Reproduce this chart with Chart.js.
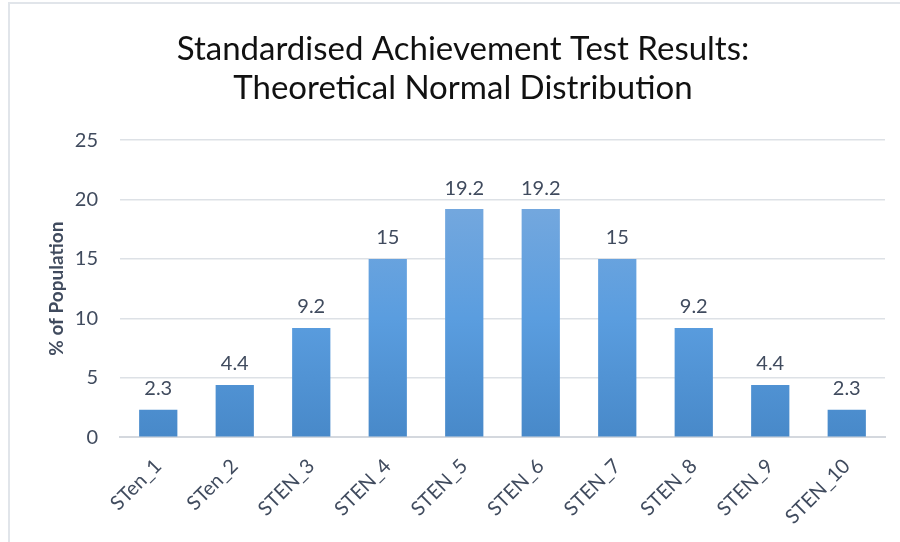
<!DOCTYPE html>
<html>
<head>
<meta charset="utf-8">
<script src="https://cdn.jsdelivr.net/npm/chart.js@4"></script>
<style>
  html, body { margin: 0; padding: 0; background: #fff; }
  .frame { position: absolute; left: 8px; top: 2px; width: 900px; height: 560px;
           border-left: 2px solid #e1e5ea; border-top: 2px solid #e1e5ea; }
  .chart_canvas { position: absolute; left: 0; top: 0; width: 900px; height: 542px; }
</style>
</head>
<body>
<div class="frame"></div>
<div class="chart_canvas">
  <canvas id="myChart" width="900" height="542"></canvas>
</div>
<script>
const categories = ["STen_1", "STen_2", "STEN_3", "STEN_4", "STEN_5",
                    "STEN_6", "STEN_7", "STEN_8", "STEN_9", "STEN_10"];
const population = [2.3, 4.4, 9.2, 15, 19.2, 19.2, 15, 9.2, 4.4, 2.3];
const yTicks = [0, 5, 10, 15, 20, 25];

const textColor = '#404b5e';
const fontFamily = 'Lato, "Open Sans", sans-serif';

// draws the value above each bar
const barValues = {
    id: 'barValues',
    afterDatasetsDraw(chart) {
        const ctx = chart.ctx;
        const meta = chart.getDatasetMeta(0);
        ctx.save();
        ctx.fillStyle = textColor;
        ctx.font = '20px ' + fontFamily;
        ctx.textAlign = 'center';
        ctx.textBaseline = 'bottom';
        meta.data.forEach((bar, i) => {
            ctx.fillText(String(population[i]), bar.x, bar.y - 11);
        });
        ctx.restore();
    }
};

const barFill = (context) => {
    const area = context.chart.chartArea;
    if (!area) return '#5b9bd5';
    const g = context.chart.ctx.createLinearGradient(0, area.top + 60, 0, area.bottom);
    g.addColorStop(0, '#75a8de');
    g.addColorStop(0.5, '#5a9ddf');
    g.addColorStop(1, '#4889c9');
    return g;
};

new Chart(document.getElementById('myChart'), {
    type: 'bar',
    data: {
        labels: categories,
        datasets: [{
            label: '% of Population',
            data: population,
            backgroundColor: barFill,
            borderWidth: 0,
            categoryPercentage: 1,
            barPercentage: 0.5
        }]
    },
    options: {
        responsive: false,
        animation: false,
        layout: { padding: { left: 41, right: 15, top: 10, bottom: 4 } },
        plugins: {
            legend: { display: false },
            tooltip: { enabled: false },
            title: {
                display: true,
                text: ['Standardised Achievement Test Results:', 'Theoretical Normal Distribution'],
                color: '#111',
                font: { family: fontFamily, size: 33, weight: 'normal', lineHeight: 1.17 },
                padding: { top: 20, bottom: 33 }
            }
        },
        scales: {
            y: {
                min: 0,
                max: 25,
                afterBuildTicks: (axis) => { axis.ticks = yTicks.map(v => ({ value: v })); },
                afterFit: (axis) => { axis.width = 120 - 41; },
                border: { display: false },
                grid: { color: '#dde1e6', lineWidth: 1.5, drawTicks: false },
                ticks: { color: textColor, padding: 22, font: { family: fontFamily, size: 20 } },
                title: {
                    display: true,
                    text: '% of Population',
                    color: textColor,
                    font: { family: fontFamily, size: 19, weight: 'bold' },
                    padding: { bottom: 4 }
                }
            },
            x: {
                border: { color: '#d4d8de', width: 2 },
                grid: { display: false },
                ticks: {
                    color: textColor,
                    maxRotation: 45,
                    minRotation: 45,
                    padding: 9,
                    font: { family: fontFamily, size: 20 }
                }
            }
        }
    },
    plugins: [barValues]
});
</script>
</body>
</html>
